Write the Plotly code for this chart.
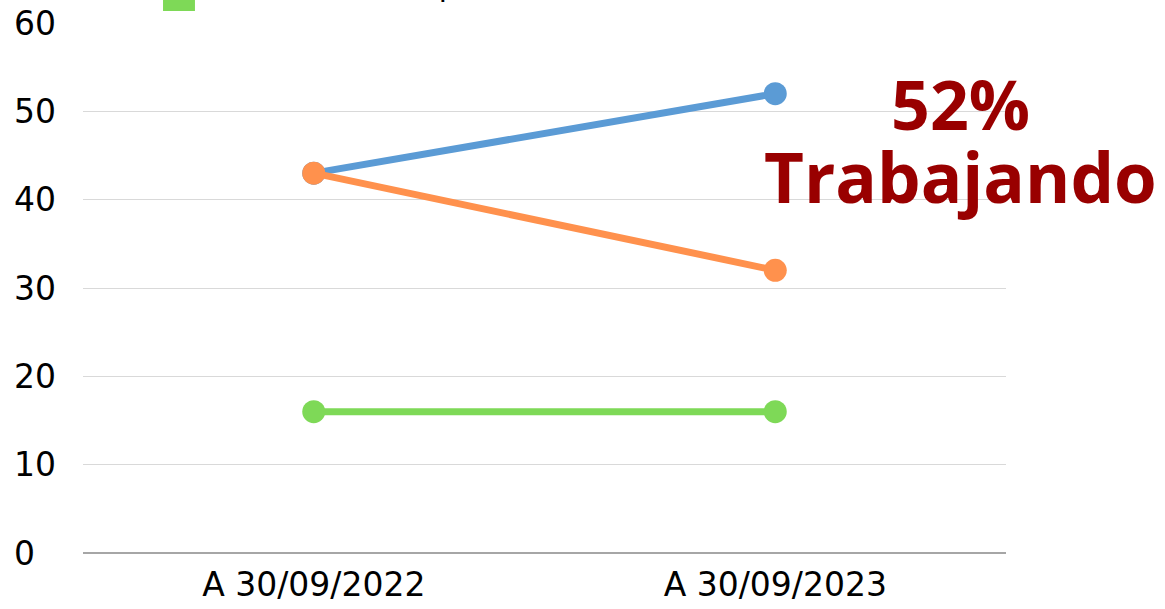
import plotly.graph_objects as go

categories = ["A 30/09/2022", "A 30/09/2023"]
trabajando = [43, 52]
estudiando = [43, 32]
buscando = [16, 16]
y_ticks = [0, 10, 20, 30, 40, 50, 60]
y_ticktext = ["0&nbsp;&nbsp;", "10", "20", "30", "40", "50", "60"]

FONT = "DejaVu Sans"
fig = go.Figure()
series = [
    ("Trabajando", trabajando, "#5B9BD5"),
    ("Estudiando", estudiando, "#FF914D"),
    ("Buscando empleo", buscando, "#7ED957"),
]
for name, vals, col in [series[2], series[0], series[1]]:
    fig.add_trace(go.Scatter(
        x=categories, y=vals, name=name, mode="lines+markers",
        line=dict(color=col, width=7),
        marker=dict(color=col, size=23),
        showlegend=False, cliponaxis=False,
    ))

# partial legend (cut off at the top in the reference)
fig.add_shape(type="rect", xref="paper", yref="paper",
              x0=0.0867, x1=0.1213, y0=1.0226, y1=1.09,
              fillcolor="#7ED957", line=dict(width=0))
fig.add_annotation(xref="paper", yref="paper", x=0.163, y=1.034,
                   xanchor="left", yanchor="bottom", showarrow=False,
                   text="Buscando empleo",
                   font=dict(family=FONT, size=30, color="#000000"))

fig.add_annotation(xref="paper", yref="paper", x=0.951, y=0.849,
                   xanchor="center", yanchor="middle", showarrow=False,
                   text="<b>52%</b>",
                   font=dict(family="Open Sans", size=68, color="#990000"))
fig.add_annotation(xref="paper", yref="paper", x=0.951, y=0.712,
                   xanchor="center", yanchor="middle", showarrow=False,
                   text="<b>Trabajando</b>",
                   font=dict(family="Open Sans", size=69, color="#990000"))

fig.update_layout(
    width=1165, height=609,
    margin=dict(l=83, r=159, t=23, b=56),
    paper_bgcolor="white", plot_bgcolor="white",
    font=dict(family=FONT, size=33, color="#000000"),
    showlegend=False,
)
fig.update_xaxes(type="category", range=[-0.5, 1.5], showgrid=False,
                 showline=False, ticks="", tickfont=dict(size=33),
                 automargin=False, ticklabelstandoff=9)
fig.update_yaxes(range=[0, 60], tickvals=y_ticks, ticktext=y_ticktext,
                 showgrid=True, gridcolor="#D9D9D9", gridwidth=1.3,
                 zeroline=True, zerolinecolor="#A6A6A6", zerolinewidth=2,
                 ticks="", tickfont=dict(size=33), automargin=False,
                 ticklabelstandoff=26)

fig.write_html("out.html", config={"displayModeBar": False},
               post_script="document.body.style.margin='0';document.body.style.overflow='hidden';")
